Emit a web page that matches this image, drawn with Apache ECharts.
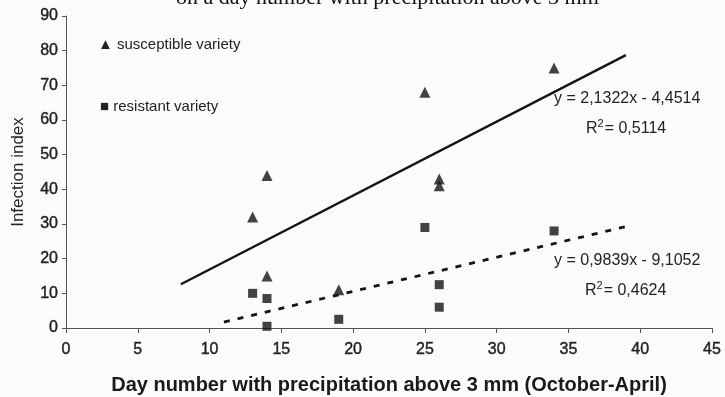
<!DOCTYPE html>
<html>
<head>
<meta charset="utf-8">
<script src="https://cdn.jsdelivr.net/npm/echarts@6/dist/echarts.min.js"></script>
<style>
  html, body { margin: 0; padding: 0; background: #fbfbfb; }
  #chart { width: 725px; height: 397px; }
</style>
</head>
<body>
<div id="chart"></div>
<script>
// susceptible variety (triangles)
const suscX = [13, 14, 14, 19, 25, 26, 26, 34];
const suscY = [32, 44, 15, 11, 68, 43, 41, 75];
// resistant variety (squares)
const resX = [13, 14, 14, 19, 25, 26, 26, 34];
const resY = [10, 8.5, 0.5, 2.5, 29, 12.5, 6, 28];

// linear trends
const suscSlope = 2.1322, suscIntercept = -4.4514, suscRange = [8, 39];
const resSlope = 0.9839, resIntercept = -9.1052, resRange = [11, 39];

const xTicks = [0, 5, 10, 15, 20, 25, 30, 35, 40, 45];
const yTicks = [0, 10, 20, 30, 40, 50, 60, 70, 80, 90];

const INK = "#141414";
const TEXT = "#222";
const FONT = "'Liberation Sans', Arial, sans-serif";

const zip = (xs, ys) => xs.map((x, i) => [x, ys[i]]);
const trend = (m, b, r) => r.map((x) => [x, m * x + b]);

const chart = echarts.init(document.getElementById("chart"));

const eqText = (txt, left, top) => ({
  type: "text",
  left,
  top,
  style: { text: txt, font: "16px " + FONT, fill: TEXT },
});
const r2Text = (val, left, top) => ({
  type: "text",
  left,
  top,
  style: {
    text: "{n|R}{s|2}{n|= " + val + "}",
    rich: {
      n: { font: "16px " + FONT, fill: TEXT, verticalAlign: "bottom" },
      s: { font: "11px " + FONT, fill: TEXT, verticalAlign: "top", padding: [0, 1, 8, 0] },
    },
  },
});

chart.setOption({
  animation: false,
  backgroundColor: "#fbfbfb",
  grid: { left: 66, right: 13, top: 16, bottom: 69, outerBoundsMode: "none" },
  xAxis: {
    type: "value",
    min: xTicks[0],
    max: xTicks[xTicks.length - 1],
    interval: 5,
    name: "Day number with precipitation above 3 mm (October-April)",
    nameLocation: "middle",
    nameGap: 47,
    nameTextStyle: { color: "#1a1a1a", fontSize: 20, fontWeight: "bold", fontFamily: FONT },
    axisLine: { lineStyle: { color: "#555", width: 1 } },
    axisTick: { show: true, length: 5, lineStyle: { color: "#555" } },
    axisLabel: {
      color: TEXT, fontSize: 16, fontFamily: FONT, margin: 14,
      textBorderColor: TEXT, textBorderWidth: 0.4,
    },
    splitLine: { show: false },
  },
  yAxis: {
    type: "value",
    min: yTicks[0],
    max: yTicks[yTicks.length - 1],
    interval: 10,
    name: "Infection index",
    nameLocation: "middle",
    nameGap: 39,
    nameTextStyle: { color: TEXT, fontSize: 17, fontFamily: FONT },
    axisLine: { show: true, lineStyle: { color: "#555", width: 1 } },
    axisTick: { show: true, length: 4, lineStyle: { color: "#555" } },
    axisLabel: {
      color: TEXT, fontSize: 16, fontFamily: FONT, margin: 8,
      textBorderColor: TEXT, textBorderWidth: 0.4,
    },
    splitLine: { show: false },
  },
  series: [
    {
      name: "susceptible variety",
      type: "scatter",
      data: zip(suscX, suscY),
      symbol: "triangle",
      symbolSize: 11,
      itemStyle: { color: INK },
      z: 3,
    },
    {
      name: "resistant variety",
      type: "scatter",
      data: zip(resX, resY),
      symbol: "rect",
      symbolSize: 9,
      itemStyle: { color: INK },
      z: 3,
    },
    {
      type: "line",
      data: trend(suscSlope, suscIntercept, suscRange),
      symbol: "none",
      lineStyle: { color: INK, width: 2.4 },
      z: 2,
    },
    {
      type: "line",
      data: trend(resSlope, resIntercept, resRange),
      symbol: "none",
      lineStyle: { color: INK, width: 2.8, type: [6, 8] },
      z: 2,
    },
  ],
  graphic: [
    {
      type: "text",
      left: 176,
      top: -13,
      style: {
        text: "on a day number with precipitation above 3 mm",
        font: "22px 'Liberation Serif', 'Times New Roman', serif",
        fill: "#111",
      },
    },
    {
      type: "text",
      left: 98,
      top: 37,
      style: { text: "▲ susceptible variety", font: "15px " + FONT, fill: TEXT },
    },
    {
      type: "text",
      left: 100,
      top: 99,
      style: { text: "■ resistant variety", font: "15px " + FONT, fill: TEXT },
    },
    eqText("y = 2,1322x - 4,4514", 554, 91),
    r2Text("0,5114", 586, 118),
    eqText("y = 0,9839x - 9,1052", 554, 253),
    r2Text("0,4624", 585, 280),
  ],
});
</script>
</body>
</html>
